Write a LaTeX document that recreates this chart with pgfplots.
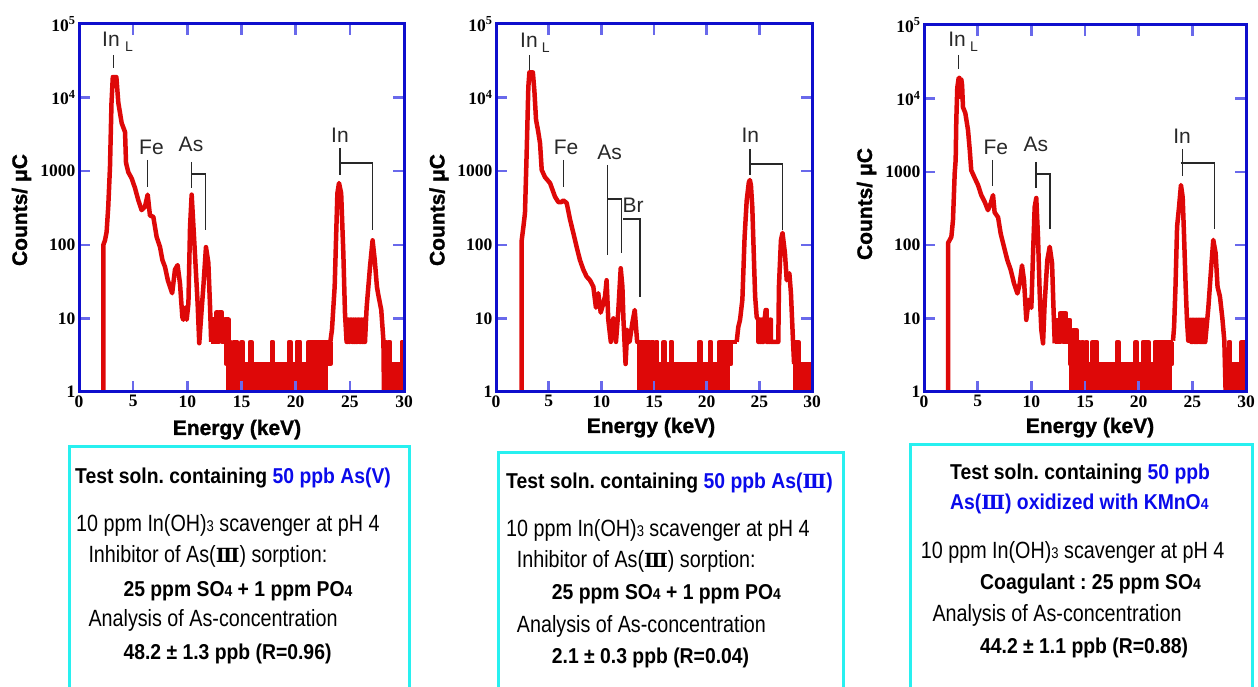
\documentclass[border=0pt]{standalone}
\usepackage{fontspec}
\setmainfont{Liberation Sans}
\newfontfamily\serifb{Liberation Serif}
\newfontfamily\narrow[FakeStretch=0.84]{Liberation Sans}
\newfontfamily\narrowb[FakeStretch=0.9]{Liberation Sans}
\newfontfamily\heavy[FakeBold=1.2]{Liberation Sans}
\newfontfamily\dvs{DejaVu Serif}
\usepackage{pgfplots}
\pgfplotsset{compat=1.18}
\frenchspacing
\definecolor{axblue}{RGB}{15,15,205}
\definecolor{tkblue}{RGB}{105,105,235}
\definecolor{spred}{RGB}{222,8,8}
\definecolor{txtblue}{RGB}{10,10,235}
\definecolor{boxcyan}{RGB}{40,240,240}
\definecolor{anno}{RGB}{40,40,40}
\newcommand{\sub}[1]{{\fontsize{15.5}{16}\selectfont #1}}
\newcommand{\three}{{\dvs\bfseries\fontsize{19.5}{20}\selectfont Ⅲ}}
\newcommand{\reg}{\narrow\fontsize{23.5}{27}\selectfont}
\newcommand{\bld}{\narrowb\bfseries\fontsize{21.5}{25}\selectfont}
\newcommand{\tk}[1]{\mbox{\serifb\bfseries\fontsize{17.5}{18}\selectfont #1}}
\pgfplotsset{/pgfplots/specax/.style={
 scale only axis, xmin=0, xmax=30, ymin=1, ymax=100000,
 xtick={0,5,...,30}, xticklabels={\tk{0},\tk{5},\tk{10},\tk{15},\tk{20},\tk{25},\tk{30}},
 ytick={1,10,100,1000,10000,100000},
 yticklabels={\tk{1},\tk{10},\tk{100},\tk{1000},\tk{10\textsuperscript{4}},\tk{10\textsuperscript{5}}},
 xminorticks=false, yminorticks=false,
 tick align=inside, major tick length=11pt,
 tick style={tkblue, line width=2.5pt},
 axis line style={axblue, line width=3pt},
 tick label style={text=black},
 axis on top,
}}
\tikzset{spl/.style={spred, line width=4.5pt, line join=round, mark=none}}
\begin{document}
\begin{tikzpicture}
\useasboundingbox (0,0) rectangle (1258pt,687pt);
% ---------------- Panel 1 ----------------
\begin{axis}[ymode=log, specax, at={(79pt,295pt)}, anchor=south west, width=325pt, height=368pt]
\addplot[spl] coordinates {(2.25,1)(2.25,100)(2.4,115)(2.55,150)(2.7,330)(2.86,1140)(3.0,8500)(3.12,19000)(3.45,19000)(3.63,8500)(3.94,4500)(4.25,3400)(4.34,1300)(4.55,970)(4.86,800)(5.17,590)(5.48,400)(5.78,296)(6.09,330)(6.34,480)(6.55,250)(6.86,240)(7.17,127)(7.48,93)(7.7,62)(7.94,50)(8.2,33)(8.4,27)(8.6,22)(8.86,46)(9.1,53)(9.32,30)(9.54,10.4)(9.63,9.6)(9.8,14)(9.94,9.6)(10.1,16)(10.25,175)(10.4,480)(10.7,77)(10.95,16)(11.1,4.6)(11.3,12)(11.48,27)(11.72,93)(11.94,57)(12.1,14)(12.2,4.8)};
\addplot[spl, const plot] coordinates {(12.2,4.8)(12.3,9.6)(12.4,4.8)(12.5,9.6)(12.6,4.8)(12.7,12)(12.8,4.8)(12.9,12)(13.0,7.2)(13.1,12)(13.2,4.8)(13.3,9.6)(13.4,4.8)(13.5,9.6)(13.6,2.4)(13.7,9.6)(13.8,1)(13.9,4.8)(14.0,1)(14.1,2.4)(14.2,1)(14.3,4.8)(14.4,1)(14.5,4.8)(14.6,1)(14.7,2.4)(14.8,1)(14.9,2.4)(15.0,4.8)(15.1,1)(15.2,2.4)(15.3,1)(15.4,2.4)(15.5,1)(15.6,2.4)(15.7,1)(15.8,4.8)(15.9,2.4)(16.0,1)(16.1,2.4)(16.2,1)(16.3,2.4)(16.4,1)(16.5,2.4)(16.6,1)(16.7,2.4)(16.8,1)(16.9,2.4)(17.0,1)(17.1,2.4)(17.2,1)(17.3,2.4)(17.4,1)(17.5,2.4)(17.6,1)(17.7,2.4)(17.8,4.8)(17.9,1)(18.0,2.4)(18.1,1)(18.2,2.4)(18.3,1)(18.4,2.4)(18.5,1)(18.6,2.4)(18.7,1)(18.8,2.4)(18.9,1)(19.0,2.4)(19.1,1)(19.2,2.4)(19.3,1)(19.4,4.8)(19.5,1)(19.6,2.4)(19.7,1)(19.8,2.4)(19.9,1)(20.0,2.4)(20.1,4.8)(20.2,1)(20.3,4.8)(20.4,2.4)(20.5,1)(20.6,2.4)(20.7,1)(20.8,2.4)(20.9,1)(21.0,2.4)(21.1,1)(21.2,4.8)(21.3,1)(21.4,4.8)(21.5,2.4)(21.6,4.8)(21.7,1)(21.8,4.8)(21.9,1)(22.0,4.8)(22.1,2.4)(22.2,4.8)(22.3,1)(22.4,4.8)(22.5,2.4)(22.6,4.8)(22.7,1)(22.8,4.8)(22.9,2.4)(23.0,4.8)(23.1,2.4)(23.2,4.8)};
\addplot[spl] coordinates {(23.2,4.8)(23.35,7)(23.6,27)(23.85,500)(24.0,690)(24.2,500)(24.4,77)(24.55,12)(24.7,4.8)(24.8,4.8)(24.8,9.6)(24.9,9.6)(24.9,4.8)(25.0,4.8)(25.0,9.6)(25.2,9.6)(25.2,4.8)(25.3,4.8)(25.3,9.6)(25.4,9.6)(25.4,4.8)(25.5,4.8)(25.5,9.6)(25.6,9.6)(25.6,4.8)(25.7,4.8)(25.7,9.6)(25.9,9.6)(25.9,4.8)(26.0,4.8)(26.0,9.6)(26.1,9.6)(26.1,4.8)(26.2,4.8)(26.2,9.6)(26.3,9.6)(26.3,4.8)(26.4,4.8)(26.55,14)(26.86,50)(27.1,115)(27.3,62)(27.5,27)(27.6,22)(27.9,13)(28.1,5)(28.15,1)};
\addplot[spl, const plot] coordinates {(28.15,1)(28.3,4.8)(28.4,1)(28.5,2.4)(28.6,4.8)(28.7,1)(28.8,2.4)(28.9,1)(29.0,2.4)(29.1,1)(29.2,2.4)(29.3,1)(29.4,2.4)(29.5,1)(29.6,2.4)(29.7,1)(29.8,4.8)(29.9,1)(30,4.8)};
\end{axis}
% ---------------- Panel 2 ----------------
\begin{axis}[ymode=log, specax, at={(496pt,295pt)}, anchor=south west, width=316pt, height=368pt]
\addplot[spl] coordinates {(2.44,1)(2.44,115)(2.6,175)(2.75,270)(2.91,1750)(3.07,14000)(3.17,22000)(3.5,22000)(3.65,12000)(3.8,5000)(4.0,3500)(4.18,2400)(4.34,1040)(4.65,830)(5.13,690)(5.6,450)(5.92,380)(6.2,380)(6.39,400)(6.71,370)(7.03,220)(7.34,145)(7.66,93)(7.97,62)(8.29,46)(8.6,37)(8.92,33)(9.24,27)(9.49,14)(9.71,22)(9.94,12)(10.19,16)(10.35,20)(10.5,33)(10.66,9.6)(10.9,4.8)(11.14,10)(11.39,4.8)(11.6,12)(11.84,48)(12.0,27)(12.1,9.6)(12.3,2.4)(12.46,7)(12.68,4.8)(12.94,8.6)(13.17,13)(13.4,4.8)(13.5,4.8)};
\addplot[spl, const plot] coordinates {(13.5,1)(13.6,4.8)(13.7,1)(13.8,4.8)(13.9,1)(14.0,4.8)(14.1,1)(14.2,4.8)(14.3,1)(14.4,2.4)(14.5,4.8)(14.6,1)(14.7,2.4)(14.8,4.8)(14.9,1)(15.0,2.4)(15.1,1)(15.2,4.8)(15.3,1)(15.4,2.4)(15.5,1)(15.6,2.4)(15.7,1)(15.8,2.4)(15.9,4.8)(16.0,1)(16.1,2.4)(16.2,1)(16.3,2.4)(16.4,1)(16.5,2.4)(16.6,4.8)(16.7,1)(16.8,2.4)(16.9,1)(17.0,2.4)(17.1,1)(17.2,2.4)(17.3,1)(17.4,2.4)(17.5,1)(17.6,2.4)(17.7,1)(17.8,2.4)(17.9,2.4)(18.0,2.4)(18.1,1)(18.2,2.4)(18.3,1)(18.4,2.4)(18.5,1)(18.6,2.4)(18.7,1)(18.8,2.4)(18.9,1)(19.0,2.4)(19.1,1)(19.2,2.4)(19.3,4.8)(19.4,1)(19.5,2.4)(19.6,1)(19.7,2.4)(19.8,1)(19.9,2.4)(20.0,2.4)(20.1,1)(20.2,2.4)(20.3,4.8)(20.4,1)(20.5,2.4)(20.6,1)(20.7,2.4)(20.8,2.4)(20.9,1)(21.0,2.4)(21.1,1)(21.2,4.8)(21.3,2.4)(21.4,4.8)(21.5,1)(21.6,4.8)(21.7,2.4)(21.8,4.8)(21.9,1)(22.0,4.8)(22.1,4.8)(22.2,2.4)(22.3,4.8)(22.4,4.8)(22.5,4.8)(22.6,4.8)(22.7,4.8)(22.85,4.8)};
\addplot[spl] coordinates {(22.85,4.8)(23.0,7.6)(23.17,9.6)(23.39,18)(23.6,127)(23.8,400)(24.0,700)(24.1,760)(24.2,650)(24.33,330)(24.49,62)(24.6,20)(24.75,10.4)(24.9,9.6)(24.9,4.8)(25.0,4.8)(25.0,9.6)(25.1,9.6)(25.1,4.8)(25.2,4.8)(25.2,9.6)(25.3,9.6)(25.3,4.8)(25.4,4.8)(25.4,9.6)(25.5,9.6)(25.6,13)(25.7,13)(25.7,4.8)(25.8,4.8)(25.8,9.6)(25.9,9.6)(25.9,4.8)(26.0,4.8)(26.0,9.6)(26.1,9.6)(26.1,4.8)(26.8,4.8)(26.86,27)(27.05,115)(27.2,145)(27.43,77)(27.6,33)(27.85,41)(28.0,22)(28.2,4.8)(28.3,2.4)};
\addplot[spl, const plot] coordinates {(28.3,1)(28.4,4.8)(28.5,1)(28.6,4.8)(28.7,1)(28.8,2.4)(28.9,1)(29.0,2.4)(29.1,1)(29.2,2.4)(29.3,1)(29.4,2.4)(29.5,1)(29.6,2.4)(29.7,1)(29.8,2.4)(29.9,1)(30.0,2.4)};
\end{axis}
% ---------------- Panel 3 ----------------
\begin{axis}[ymode=log, specax, at={(924pt,295pt)}, anchor=south west, width=322pt, height=367pt]
\addplot[spl] coordinates {(2.24,1)(2.24,107)(2.55,130)(2.7,220)(2.86,960)(2.95,1450)(3.01,5100)(3.1,14000)(3.23,19000)(3.3,19000)(3.38,10500)(3.48,18000)(3.55,15000)(3.63,7600)(3.85,6300)(4.1,3700)(4.26,2000)(4.4,1050)(4.73,820)(5.03,660)(5.34,480)(5.65,390)(5.96,300)(6.21,370)(6.43,480)(6.58,280)(6.9,240)(7.14,145)(7.45,95)(7.76,63)(8.08,46)(8.39,30)(8.7,22)(8.92,30)(9.13,53)(9.32,33)(9.53,9.6)(9.75,18)(10.0,14)(10.16,78)(10.31,330)(10.46,440)(10.62,130)(10.78,22)(10.93,7)(11.09,4.6)(11.24,16)(11.49,63)(11.71,95)(11.93,57)(12.05,16)(12.18,4.6)};
\addplot[spl, const plot] coordinates {(12.2,4.8)(12.3,9.6)(12.4,4.8)(12.5,9.6)(12.6,4.8)(12.7,12)(12.8,7.2)(12.9,12)(13.0,4.8)(13.1,12)(13.2,4.8)(13.3,9.6)(13.4,4.8)(13.5,9.6)(13.6,2.4)(13.7,1)(13.8,4.8)(13.9,7)(14.0,1)(14.1,7)(14.2,4.8)(14.3,1)(14.4,4.8)(14.5,1)(14.6,2.4)(14.7,4.8)(14.8,1)(14.9,2.4)(15.0,1)(15.1,4.8)(15.2,1)(15.3,2.4)(15.4,1)(15.5,2.4)(15.6,1)(15.7,4.8)(15.8,1)(15.9,2.4)(16.0,4.8)(16.1,1)(16.2,2.4)(16.3,1)(16.4,2.4)(16.5,1)(16.6,2.4)(16.7,1)(16.8,2.4)(16.9,1)(17.0,2.4)(17.1,1)(17.2,2.4)(17.3,1)(17.4,2.4)(17.5,1)(17.6,2.4)(17.7,1)(17.8,2.4)(17.9,1)(18.0,4.8)(18.1,1)(18.2,2.4)(18.3,1)(18.4,2.4)(18.5,1)(18.6,2.4)(18.7,1)(18.8,2.4)(18.9,1)(19.0,2.4)(19.1,1)(19.2,2.4)(19.3,1)(19.4,2.4)(19.5,1)(19.6,2.4)(19.7,4.8)(19.8,1)(19.9,2.4)(20.0,2.4)(20.1,2.4)(20.2,1)(20.3,2.4)(20.4,4.8)(20.5,1)(20.6,4.8)(20.7,2.4)(20.8,4.8)(20.9,1)(21.0,2.4)(21.1,1)(21.2,2.4)(21.3,2.4)(21.4,1)(21.5,4.8)(21.6,1)(21.7,4.8)(21.8,2.4)(21.9,4.8)(22.0,1)(22.1,4.8)(22.2,2.4)(22.3,4.8)(22.4,1)(22.5,4.8)(22.6,2.4)(22.7,4.8)(22.8,1)(22.9,4.8)(23.0,2.4)(23.1,4.8)(23.2,4.8)};
\addplot[spl] coordinates {(23.2,5)(23.3,7.7)(23.43,27)(23.58,180)(23.76,330)(23.94,660)(24.1,450)(24.22,145)(24.38,27)(24.5,9.6)(24.62,5)(24.8,5)(24.8,9.6)(24.9,9.6)(24.9,4.8)(25.0,4.8)(25.0,9.6)(25.2,9.6)(25.2,4.8)(25.3,4.8)(25.3,9.6)(25.4,9.6)(25.4,4.8)(25.5,4.8)(25.5,9.6)(25.7,9.6)(25.7,4.8)(25.8,4.8)(25.8,9.6)(25.9,9.6)(25.9,4.8)(26.0,4.8)(26.0,9.6)(26.1,9.6)(26.1,4.8)(26.2,4.8)(26.49,14)(26.74,46)(26.95,118)(27.17,78)(27.35,27)(27.57,20)(27.8,10)(27.98,5)(28.1,1)};
\addplot[spl, const plot] coordinates {(28.1,1)(28.2,2.4)(28.3,1)(28.4,4.8)(28.5,1)(28.6,2.4)(28.7,1)(28.8,2.4)(28.9,1)(29.0,2.4)(29.1,1)(29.2,2.4)(29.3,1)(29.4,2.4)(29.5,1)(29.6,4.8)(29.7,1)(29.8,4.8)(29.9,4.8)(30.0,4.8)};
\end{axis}
% ---------------- Annotations, labels, boxes (pixel frame) ----------------
\begin{scope}[x=1pt,y=-1pt,shift={(0pt,687pt)}]
\tikzset{lab/.style={font=\heavy\bfseries\fontsize{21}{24}\selectfont, inner sep=0},
 pk/.style={anchor=base, inner sep=0, text=anno, font=\fontsize{21}{24}\selectfont},
 pks/.style={anchor=base west, inner sep=0, text=anno, font=\fontsize{14}{16}\selectfont},
 ln/.style={draw=anno, line width=1.3pt},
 bx/.style={draw=boxcyan, line width=3pt},
 t/.style={anchor=base west, inner sep=0}}
\node[lab, rotate=90] at (21.5,210) {Counts/ μC};
\node[lab, rotate=90] at (439,210) {Counts/ μC};
\node[lab, rotate=90] at (866.5,204) {Counts/ μC};
\node[lab, anchor=base] at (237,435) {Energy (keV)};
\node[lab, anchor=base] at (651,433) {Energy (keV)};
\node[lab, anchor=base] at (1090,433) {Energy (keV)};
\node[pk] at (111,47) {In}; \node[pks] at (125,52) {L};
\draw[ln] (113.3,55)--(113.3,68);
\node[pk] at (151.5,155) {Fe}; \draw[ln] (147.7,160)--(147.7,187);
\node[pk] at (191,152) {As}; \draw[ln] (191.7,162)--(191.7,188);
\draw[ln] (191.7,174)--(205.7,174)--(205.7,230);
\node[pk] at (340,143) {In}; \draw[ln] (340,148)--(340,175);
\draw[ln] (340,163)--(372.7,163)--(372.7,230);
\node[pk] at (529,48) {In}; \node[pks] at (541.7,53) {L};
\draw[ln] (529.3,55)--(529.3,70);
\node[pk] at (566,155) {Fe}; \draw[ln] (563.3,160)--(563.3,187);
\node[pk] at (609.7,160) {As}; \draw[ln] (607.7,165)--(607.7,255);
\draw[ln] (607.7,199)--(621.3,199)--(621.3,253);
\node[pk] at (633,213) {Br};
\draw[ln] (623.3,219)--(640,219)--(640,297);
\node[pk] at (750.3,143) {In}; \draw[ln] (750,149)--(750,175);
\draw[ln] (750,164)--(782.3,164)--(782.3,230);
\node[pk] at (957,47) {In}; \node[pks] at (970,52) {L};
\draw[ln] (958.7,55)--(958.7,69);
\node[pk] at (995.8,155) {Fe}; \draw[ln] (992.7,160)--(992.7,186);
\node[pk] at (1035.8,152) {As}; \draw[ln] (1036,162)--(1036,188);
\draw[ln] (1036,174)--(1050,174)--(1050,229);
\node[pk] at (1182,144) {In}; \draw[ln] (1182.3,149)--(1182.3,176);
\draw[ln] (1180.7,163)--(1214.3,163)--(1214.3,229);
\draw[bx] (69,695)--(69,447)--(409,447)--(409,695);
\draw[bx] (498,695)--(498,453)--(843,453)--(843,695);
\draw[bx] (910,695)--(910,445)--(1252,445)--(1252,695);
\node[t] at (75,484) {\bld Test soln. containing \textcolor{txtblue}{50 ppb As(V)}};
\node[t] at (76,531.7) {\reg 10 ppm In(OH)\sub{3} scavenger at pH 4};
\node[t] at (88.3,563) {\reg Inhibitor of As(\three) sorption:};
\node[t] at (123.3,596.7) {\bld 25 ppm SO\sub{4} + 1 ppm PO\sub{4}};
\node[t] at (88.3,626.7) {\reg Analysis of As-concentration};
\node[t] at (123.3,660) {\bld 48.2 ± 1.3 ppb (R=0.96)};
\node[t] at (506,488.3) {\bld Test soln. containing \textcolor{txtblue}{50 ppb As(\three)}};
\node[t] at (506,536.7) {\reg 10 ppm In(OH)\sub{3} scavenger at pH 4};
\node[t] at (516.7,568) {\reg Inhibitor of As(\three) sorption:};
\node[t] at (551.7,600) {\bld 25 ppm SO\sub{4} + 1 ppm PO\sub{4}};
\node[t] at (516.7,632.7) {\reg Analysis of As-concentration};
\node[t] at (551.7,663.3) {\bld 2.1 ± 0.3 ppb (R=0.04)};
\node[t] at (950,480) {\bld Test soln. containing \textcolor{txtblue}{50 ppb}};
\node[t] at (950,509.3) {\bld\color{txtblue} As(\three) oxidized with KMnO\sub{4}};
\node[t] at (920.7,558.3) {\reg 10 ppm In(OH)\sub{3} scavenger at pH 4};
\node[t] at (980,590) {\bld Coagulant : 25 ppm SO\sub{4}};
\node[t] at (932.3,621.7) {\reg Analysis of As-concentration};
\node[t] at (980,653.3) {\bld 44.2 ± 1.1 ppb (R=0.88)};
\end{scope}
\end{tikzpicture}
\end{document}
